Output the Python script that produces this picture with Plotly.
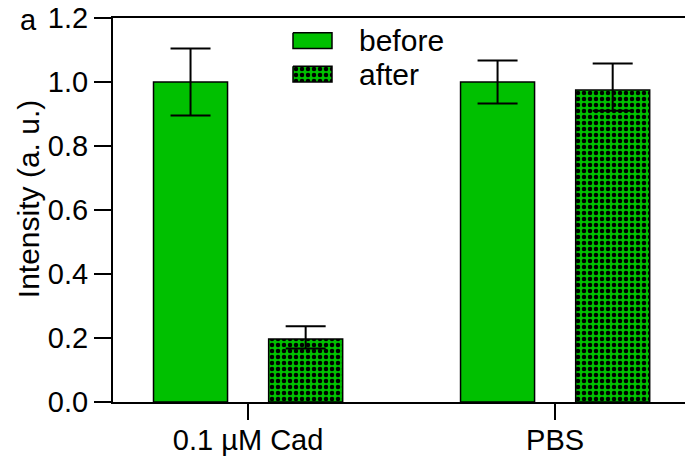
import plotly.graph_objects as go

# Data
categories = ["0.1 µM Cad", "PBS"]
series_names = ["before", "after"]
before_vals = [1.0, 1.0]
before_err_plus = [0.105, 0.067]
before_err_minus = [0.105, 0.067]
after_vals = [0.197, 0.975]
after_err_plus = [0.04, 0.083]
after_err_minus = [0.03, 0.065]
y_ticks = [0.0, 0.2, 0.4, 0.6, 0.8, 1.0, 1.2]

GREEN = "#00C000"
FONT = "Liberation Sans, Arial, Helvetica, sans-serif"

W, H = 685, 456
ML, MR, MT, MB = 113, 0, 18, 48
PW, PH = W - ML - MR, H - MT - MB

checker = dict(shape=".", fgcolor="black", bgcolor=GREEN, size=6,
               solidity=0.45, fillmode="replace")

fig = go.Figure()
fig.add_trace(go.Bar(
    x=categories, y=before_vals, name=series_names[0],
    marker=dict(color=GREEN, line=dict(color="black", width=1.5)),
    error_y=dict(type="data", symmetric=False, array=before_err_plus,
                 arrayminus=before_err_minus, color="black",
                 thickness=2, width=20),
    showlegend=False,
))
fig.add_trace(go.Bar(
    x=categories, y=after_vals, name=series_names[1],
    marker=dict(color=GREEN, line=dict(color="black", width=1.5),
                pattern=checker),
    error_y=dict(type="data", symmetric=False, array=after_err_plus,
                 arrayminus=after_err_minus, color="black",
                 thickness=2, width=20),
    showlegend=False,
))

# Legend drawn on a pixel-scaled overlay axis pair
swatch_x = [293, 332]
swatch_rows = [(33, 49), (67, 83)]
for i, (y0, y1) in enumerate(swatch_rows):
    kw = dict(fillcolor=GREEN)
    if i == 1:
        kw["fillpattern"] = checker
    fig.add_trace(go.Scatter(
        x=[swatch_x[0], swatch_x[1], swatch_x[1], swatch_x[0], swatch_x[0]],
        y=[y0, y0, y1, y1, y0],
        xaxis="x2", yaxis="y2", mode="lines", fill="toself",
        line=dict(color="black", width=1.5), showlegend=False,
        hoverinfo="skip", **kw,
    ))
    fig.add_annotation(
        x=357, y=(y0 + y1) / 2, xref="x2", yref="y2",
        text=series_names[i], showarrow=False, xanchor="left",
        yanchor="middle", font=dict(size=30, color="black", family=FONT),
    )

fig.update_layout(
    width=W, height=H,
    margin=dict(l=ML, r=MR, t=MT, b=MB),
    paper_bgcolor="white", plot_bgcolor="white",
    barmode="group", bargap=0.25, bargroupgap=0.357,
    font=dict(family=FONT, color="black", size=29),
    xaxis=dict(
        range=[-0.44, 1.423], showline=True, linecolor="black", linewidth=2,
        mirror=True, ticks="outside", ticklen=16, tickwidth=2,
        tickcolor="black", showgrid=False, zeroline=False,
        tickfont=dict(size=29), ticklabelstandoff=-5,
    ),
    yaxis=dict(
        range=[0, 1.2], tickvals=y_ticks, tickformat=".1f",
        showline=True, linecolor="black", linewidth=2, ticks="outside",
        ticklen=17, tickwidth=2, tickcolor="black", showgrid=False,
        zeroline=False, tickfont=dict(size=29),
    ),
    xaxis2=dict(overlaying="x", range=[ML, W - MR], visible=False,
                fixedrange=True),
    yaxis2=dict(overlaying="y", range=[MT + PH, MT], visible=False,
                fixedrange=True),
)

# Axis title and panel label
fig.add_annotation(
    x=(28 - ML) / PW, y=(MT + PH - 202) / PH, xref="paper", yref="paper",
    text="Intensity (a. u.)", textangle=-90, showarrow=False,
    xanchor="center", yanchor="middle",
    font=dict(size=30, color="black", family=FONT),
)
fig.add_annotation(
    x=(28 - ML) / PW, y=(MT + PH - 20) / PH, xref="paper", yref="paper",
    text="a", showarrow=False, xanchor="center", yanchor="middle",
    font=dict(size=29, color="black", family=FONT),
)

fig.write_html("out.html")
